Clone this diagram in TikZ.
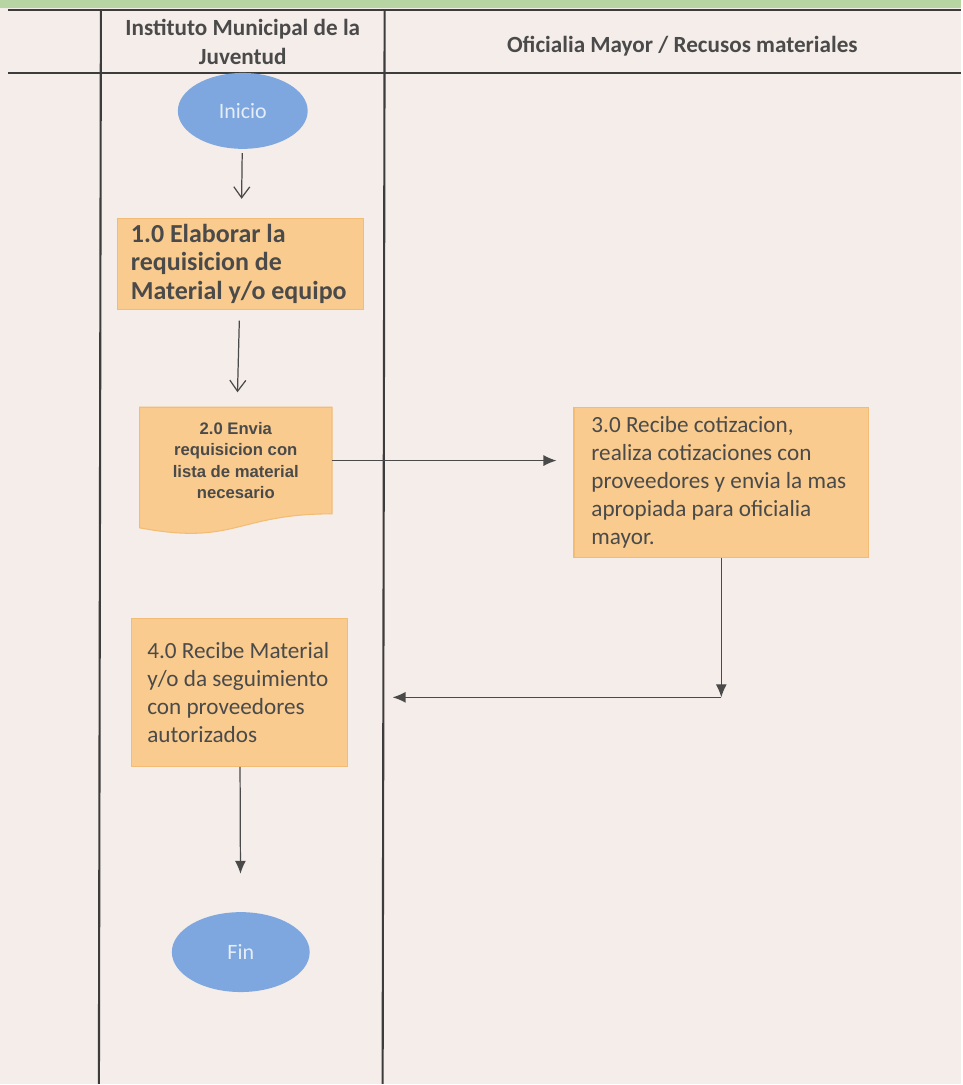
\documentclass[tikz,border=0pt]{standalone}
\usepackage{fontspec}
\setmainfont{Carlito}
\newfontfamily\docfont{Liberation Sans}
\usetikzlibrary{arrows.meta,calc,shapes.geometric,backgrounds}

\definecolor{paper}{HTML}{F5EDEA}
\definecolor{band}{HTML}{B6D5A2}
\definecolor{boxfill}{HTML}{F9CB8E}
\definecolor{boxline}{HTML}{F3BC74}
\definecolor{ovalfill}{HTML}{7DA7DE}
\definecolor{ink}{HTML}{4A4A4A}
\definecolor{laneline}{HTML}{3C3C3C}

\begin{document}
\begin{tikzpicture}[x=0.02cm, y=-0.02cm,
        lane/.style={draw=laneline, line width=1.2pt},
        header/.style={align=center, text=ink, font=\bfseries\fontsize{13.2}{16.5}\selectfont},
        process/.style={rectangle, fill=boxfill, draw=boxline, line width=0.6pt, align=flush left, text=ink},
        terminal/.style={ellipse, fill=ovalfill, text=white!80!ovalfill, font=\fontsize{12.5}{15}\selectfont},
        flow/.style={-{Straight Barb[length=2.2mm,width=3.2mm]}, draw=ink, line width=0.7pt},
        flowfill/.style={-{Latex[length=2.6mm,width=2.2mm]}, draw=ink, line width=0.7pt}
    ]
        % Paper and green band
        \begin{scope}[on background layer]
            \fill[paper] (0,0) rectangle (962,1085);
            \fill[band] (0,0) rectangle (962,8);
        \end{scope}

        % Swimlanes
        \draw[lane] (8,10) -- (962,10);
        \draw[lane] (8,73) -- (962,73);
        \draw[lane] (101,10) -- (99,1085);
        \draw[lane] (385,10) -- (383,1085);

        % Lane titles
        \node[header] (lane1) at (243,42) {Instituto Municipal de la\\Juventud};
        \node[header] (lane2) at (683,46) {Oficialia Mayor / Recusos materiales};

        % Start
        \node[terminal, minimum width=2.6cm, minimum height=1.52cm] (start) at (243,111) {Inicio};

        % Steps of the Instituto
        \node[process, minimum width=4.92cm, minimum height=1.8cm, text width=4.4cm,
            font=\bfseries\fontsize{14.8}{16.2}\selectfont] (elab) at (241,264)
            {1.0 Elaborar la\\requisicion de\\Material y/o equipo};
        \node[align=center, text=ink, minimum width=3.84cm, minimum height=2.12cm,
            font=\docfont\bfseries\fontsize{9.5}{12.3}\selectfont] (send) at (236,461)
            {2.0 Envia\\requisicion con\\lista de material\\necesario};
        \begin{scope}[on background layer]
            \filldraw[fill=boxfill, draw=boxline, line width=0.6pt] (send.north west) -- (send.north east) -- (send.south east)
                .. controls (send.south) and ($(send.south)+(0,32)$) .. ($(send.south west)+(0,14)$) -- cycle;
        \end{scope}

        % Step of Oficialia Mayor
        \node[process, minimum width=5.9cm, minimum height=3cm, text width=5.2cm,
            font=\fontsize{13.2}{16}\selectfont] (recv) at (722,483)
            {3.0 Recibe cotizacion,\\realiza cotizaciones con\\proveedores y envia la mas\\apropiada para oficialia\\mayor.};

        % Reception and end
        \node[process, minimum width=4.32cm, minimum height=2.96cm, text width=3.7cm,
            font=\fontsize{13.2}{16}\selectfont] (recmat) at (240,693)
            {4.0 Recibe Material\\y/o da seguimiento\\con proveedores\\autorizados};
        \node[terminal, minimum width=2.76cm, minimum height=1.6cm] (finish) at (241,953) {Fin};

        % Connect steps
        \coordinate (turn) at (722,698);
        \coordinate (back) at (393,698);
        \draw[flow, shorten <=0.08cm, shorten >=0.38cm] (start) -- (elab);
        \draw[flow, shorten <=0.22cm, shorten >=0.3cm] (elab) -- (send);
        \draw[flowfill, shorten >=0.34cm] (send.east) -- (send.east -| recv.west);
        \draw[flowfill] (recv.south) -- (turn);
        \draw[flowfill] (turn) -- (back);
        \draw[flowfill, shorten >=0.76cm] (recmat) -- (finish);
    \end{tikzpicture}
\end{document}
